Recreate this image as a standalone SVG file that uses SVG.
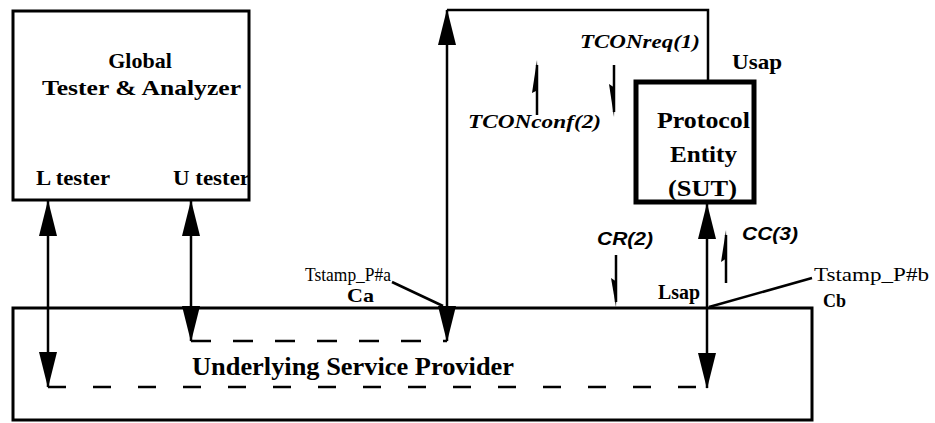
<svg xmlns="http://www.w3.org/2000/svg" width="935" height="423" viewBox="0 0 935 423">
<style>
.box{fill:none;stroke:#000;stroke-width:3}
.thick{fill:none;stroke:#000;stroke-width:5}
.ln{fill:none;stroke:#000;stroke-width:2.5}
.dash{fill:none;stroke:#000;stroke-width:2.5;stroke-dasharray:20 22}
.dash2{fill:none;stroke:#000;stroke-width:2.5;stroke-dasharray:18 27}
.bd{font-family:"Liberation Serif",serif;font-weight:bold;fill:#000}
.it{font-family:"Liberation Serif",serif;font-style:italic;font-weight:bold;fill:#000}
.si{font-family:"Liberation Sans",sans-serif;font-style:italic;font-weight:bold;fill:#000}
.rg{font-family:"Liberation Serif",serif;fill:#000}
.hd{fill:#000;stroke:none}
</style>
<defs>
<marker id="ah" markerUnits="userSpaceOnUse" markerWidth="36" markerHeight="18" refX="35" refY="9" orient="auto-start-reverse">
<path d="M0,0 L36,9 L0,18 z" fill="#000"/>
</marker>
</defs>
<rect width="935" height="423" fill="#fff"/>

<g id="global-tester">
<rect class="box" x="13" y="11" width="236" height="189"/>
<text class="bd" x="140" y="68" font-size="22" text-anchor="middle">Global</text>
<text class="bd" x="42" y="95" font-size="22" textLength="199" lengthAdjust="spacingAndGlyphs">Tester &amp; Analyzer</text>
<text class="bd" x="36" y="185" font-size="22" textLength="74" lengthAdjust="spacingAndGlyphs">L tester</text>
<text class="bd" x="173" y="185" font-size="22" textLength="77" lengthAdjust="spacingAndGlyphs">U tester</text>
</g>

<g id="protocol-entity">
<rect class="thick" x="636" y="82" width="118" height="120"/>
<text class="bd" x="657" y="128" font-size="24" textLength="93" lengthAdjust="spacingAndGlyphs">Protocol</text>
<text class="bd" x="670" y="162" font-size="24" textLength="67" lengthAdjust="spacingAndGlyphs">Entity</text>
<text class="bd" x="668" y="196" font-size="24" textLength="69" lengthAdjust="spacingAndGlyphs">(SUT)</text>
</g>

<g id="service-provider">
<rect class="box" x="13" y="308" width="799" height="112"/>
<text class="bd" x="192" y="375" font-size="26" textLength="322" lengthAdjust="spacingAndGlyphs">Underlying Service Provider</text>
</g>

<g id="connectors">
<line class="ln" x1="48" y1="201" x2="48" y2="387" marker-start="url(#ah)" marker-end="url(#ah)"/>
<line class="ln" x1="191" y1="201" x2="191" y2="341" marker-start="url(#ah)" marker-end="url(#ah)"/>
<line class="ln" x1="447" y1="10" x2="447" y2="341" marker-start="url(#ah)" marker-end="url(#ah)"/>
<line class="ln" x1="707" y1="204" x2="707" y2="388" marker-start="url(#ah)" marker-end="url(#ah)"/>
<polyline class="ln" points="447,10 708,10 708,80"/>
<line class="dash" x1="191" y1="341" x2="447" y2="341"/>
<line class="dash2" x1="48" y1="387" x2="707" y2="387"/>
<line class="ln" x1="392" y1="282" x2="443" y2="306"/>
<line class="ln" x1="709" y1="307" x2="812" y2="278"/>
<line class="ln" x1="614" y1="65" x2="614" y2="112"/>
<polygon class="hd" points="614,117 609,84 615,88"/>
<line class="ln" x1="537" y1="65" x2="537" y2="115"/>
<polygon class="hd" points="537,60 532,93 538,90"/>
<line class="ln" x1="616" y1="255" x2="616" y2="302"/>
<polygon class="hd" points="616,307 611,278 617,282"/>
<line class="ln" x1="726" y1="235" x2="726" y2="283"/>
<polygon class="hd" points="726,230 721,262 727,258"/>
</g>

<g id="labels">
<text class="it" x="580" y="48" font-size="19" textLength="120" lengthAdjust="spacingAndGlyphs">TCONreq(1)</text>
<text class="bd" x="732" y="69" font-size="21" textLength="50" lengthAdjust="spacingAndGlyphs">Usap</text>
<text class="it" x="468" y="128" font-size="19" textLength="133" lengthAdjust="spacingAndGlyphs">TCONconf(2)</text>
<text class="si" x="597" y="245" font-size="19" textLength="56" lengthAdjust="spacingAndGlyphs">CR(2)</text>
<text class="si" x="742" y="240" font-size="19" textLength="56" lengthAdjust="spacingAndGlyphs">CC(3)</text>
<text class="bd" x="658" y="299" font-size="20" textLength="42" lengthAdjust="spacingAndGlyphs">Lsap</text>
<text class="rg" x="305" y="281" font-size="18" textLength="86" lengthAdjust="spacingAndGlyphs">Tstamp_P#a</text>
<text class="bd" x="347" y="302" font-size="19" textLength="27" lengthAdjust="spacingAndGlyphs">Ca</text>
<text class="rg" x="814" y="281" font-size="19" textLength="115" lengthAdjust="spacingAndGlyphs">Tstamp_P#b</text>
<text class="bd" x="823" y="307" font-size="19" textLength="23" lengthAdjust="spacingAndGlyphs">Cb</text>
</g>
</svg>
